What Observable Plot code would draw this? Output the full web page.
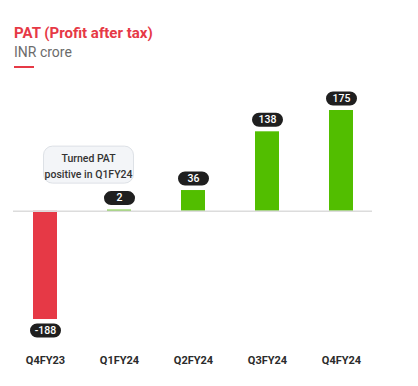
<!DOCTYPE html>
<html>
<head>
<meta charset="utf-8">
<script src="https://cdn.jsdelivr.net/npm/d3@7"></script>
<script src="https://cdn.jsdelivr.net/npm/@observablehq/plot@0.6"></script>
<style>
  html, body { margin: 0; padding: 0; background: #fff; }
  body { width: 418px; height: 386px; overflow: hidden; font-family: Roboto, "Noto Sans", sans-serif; }
  #head { height: 76px; position: relative; }
  #title { position: absolute; left: 14px; top: 24px; font-size: 15px; font-weight: 700; color: #e63946; }
  #sub { position: absolute; left: 14px; top: 44px; font-size: 14px; color: #6b6b6b; }
  #bar { position: absolute; left: 14px; top: 66px; width: 20px; height: 2px; background: #e63946; }
  #chart svg { display: block; }
</style>
</head>
<body>
<div id="head">
  <div id="title">PAT (Profit after tax)</div>
  <div id="sub">INR crore</div>
  <div id="bar"></div>
</div>
<div id="chart"></div>
<script>
const quarters = ["Q4FY23", "Q1FY24", "Q2FY24", "Q3FY24", "Q4FY24"];
const pat = [-188, 2, 36, 138, 175];
const noteQuarter = "Q1FY24";
const noteText = "Turned PAT\npositive in Q1FY24";
const noteLevel = 81;

const data = quarters.map((q, i) => ({q, v: pat[i]}));
const pos = data.filter(d => d.v >= 0);
const neg = data.filter(d => d.v < 0);

function roundRect(w, h, r) {
  return {
    draw(ctx) {
      const x0 = -w / 2, y0 = -h / 2, x1 = w / 2, y1 = h / 2;
      ctx.moveTo(x0 + r, y0);
      ctx.lineTo(x1 - r, y0);
      ctx.arcTo(x1, y0, x1, y0 + r, r);
      ctx.lineTo(x1, y1 - r);
      ctx.arcTo(x1, y1, x1 - r, y1, r);
      ctx.lineTo(x0 + r, y1);
      ctx.arcTo(x0, y1, x0, y1 - r, r);
      ctx.lineTo(x0, y0 + r);
      ctx.arcTo(x0, y0, x0 + r, y0, r);
      ctx.closePath();
    }
  };
}
const pill = roundRect(31, 14, 7);
const noteBox = roundRect(90, 37, 9);

const chart = Plot.plot({
  width: 418,
  height: 310,
  marginLeft: 13,
  marginRight: 46,
  marginTop: 34,
  marginBottom: 67,
  style: {fontFamily: "Roboto, 'Noto Sans', sans-serif", background: "#fff"},
  x: {domain: quarters, range: [8, 378], paddingInner: 0.676, paddingOuter: 0.338, label: null},
  y: {domain: [-188, 175], range: [243, 34], axis: null},
  marks: [
    Plot.barY(data, {x: "q", y: "v", fill: d => d.v < 0 ? "#e63946" : "#52be00"}),
    Plot.ruleY([0], {stroke: "#dcdcdc", strokeWidth: 1.5}),
    Plot.dot(pos, {x: "q", y: "v", dy: -12, symbol: pill, r: 1, fill: "#1f1f1f", stroke: null}),
    Plot.text(pos, {x: "q", y: "v", dy: -12, text: d => String(d.v), fill: "#fff", fontSize: 10.5, fontWeight: 500}),
    Plot.dot(neg, {x: "q", y: "v", dy: 11, symbol: pill, r: 1, fill: "#1f1f1f", stroke: null}),
    Plot.text(neg, {x: "q", y: "v", dy: 11, text: d => String(d.v), fill: "#fff", fontSize: 10.5, fontWeight: 500}),
    Plot.dot([{q: noteQuarter, y: noteLevel}], {x: "q", y: "y", dx: -31, symbol: noteBox, r: 1, fill: "#f3f5f8", stroke: "#dde1e6", strokeWidth: 1}),
    Plot.text([{q: noteQuarter, y: noteLevel}], {x: "q", y: "y", dx: -31, text: () => noteText, fill: "#333", fontSize: 10.5, fontWeight: 500, lineHeight: 1.5}),
    Plot.axisX({tickSize: 0, tickPadding: 37, fontSize: 11, fontWeight: 700, color: "#2b2b2b", label: null})
  ]
});
document.getElementById("chart").append(chart);
</script>
</body>
</html>
